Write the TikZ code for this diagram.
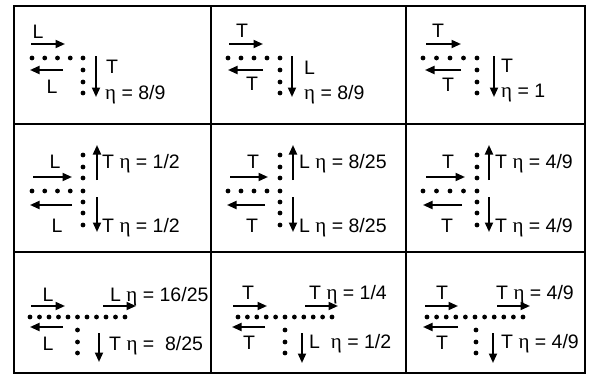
\documentclass[tikz,border=0pt]{standalone}
\usepackage{fontspec}
\setmainfont{Liberation Sans}
\newfontfamily\grk{Liberation Serif}
\usetikzlibrary{arrows.meta}
\newcommand\et{{\grk\fontsize{21}{22}\selectfont η}}
\begin{document}
\begin{tikzpicture}[x=1pt,y=-1pt,
  font=\fontsize{19.5}{22}\selectfont,
  lab/.style={anchor=base,inner sep=0pt},
  labw/.style={anchor=base west,inner sep=0pt},
  arr/.style={line width=1.9pt,-{Triangle[length=9.5pt,width=8pt]}},
  frame/.style={line width=2pt}]
\useasboundingbox (0,0) rectangle (590,375);
% grid
\draw[frame] (14,6) rectangle (585,373);
\draw[frame] (211,6) -- (211,373) (406,6) -- (406,373)
             (14,124) -- (585,124) (14,252) -- (585,252);
\def\dotr{2.4}
% ---------- Row 1 ----------
% cell 1
\foreach \i in {0,...,4} \fill (32+\i*12.75,58) circle (\dotr);
\foreach \y in {70,82,93} \fill (83,\y) circle (\dotr);
\draw[arr] (31,44) -- (65,44);
\draw[arr] (63,70) -- (30,70);
\draw[arr] (96,56) -- (96,97);
\node[lab] (c1a) at (38,38) {L};
\node[lab] (c1b) at (52,93) {L};
\node[labw] (c1c) at (106,73) {T};
\node[labw] (c1d) at (105,99) {\et{} = 8/9};
% cell 2
\foreach \i in {0,...,4} \fill (228+\i*13,58) circle (\dotr);
\foreach \y in {70,82,93} \fill (280,\y) circle (\dotr);
\draw[arr] (229,44) -- (263,44);
\draw[arr] (263,70) -- (228,70);
\draw[arr] (292,56) -- (292,97);
\node[lab] (c2a) at (242,37) {T};
\node[lab] (c2b) at (252,90) {T};
\node[labw] (c2c) at (304,74) {L};
\node[labw] (c2d) at (304,99) {\et{} = 8/9};
% cell 3
\foreach \i in {0,...,4} \fill (423+\i*13.5,58) circle (\dotr);
\foreach \y in {70,82,93} \fill (477,\y) circle (\dotr);
\draw[arr] (426,44) -- (461,44);
\draw[arr] (461,70) -- (425,70);
\draw[arr] (494,56) -- (494,97);
\node[lab] (c3a) at (438,37) {T};
\node[lab] (c3b) at (448,91) {T};
\node[labw] (c3c) at (501,72) {T};
\node[labw] (c3d) at (501,97) {\et{} = 1};
% ---------- Row 2 ----------
% cell 4
\foreach \i in {0,...,4} \fill (32+\i*12.75,191) circle (\dotr);
\foreach \y in {155,167,178,202,213,225} \fill (83,\y) circle (\dotr);
\draw[arr] (33,177) -- (72,177);
\draw[arr] (72,205) -- (30,205);
\draw[arr] (97,180) -- (97,145);
\draw[arr] (97,197) -- (97,232);
\node[lab] (c4a) at (55,168) {L};
\node[lab] (c4b) at (57,232) {L};
\node[labw] (c4c) at (102,168) {T \et{} = 1/2};
\node[labw] (c4d) at (102,232) {T \et{} = 1/2};
% cell 5
\foreach \i in {0,...,4} \fill (228+\i*13,191) circle (\dotr);
\foreach \y in {155,167,178,202,213,225} \fill (280,\y) circle (\dotr);
\draw[arr] (230,177) -- (268,177);
\draw[arr] (265,205) -- (227,205);
\draw[arr] (293,180) -- (293,145);
\draw[arr] (293,197) -- (293,232);
\node[lab] (c5a) at (253,168) {T};
\node[lab] (c5b) at (252,232) {T};
\node[labw] (c5c) at (299,168) {L \et{} = 8/25};
\node[labw] (c5d) at (299,232) {L \et{} = 8/25};
% cell 6
\foreach \i in {0,...,4} \fill (423+\i*13.5,191) circle (\dotr);
\foreach \y in {155,167,178,202,213,225} \fill (477,\y) circle (\dotr);
\draw[arr] (426,177) -- (465,177);
\draw[arr] (462,205) -- (423,205);
\draw[arr] (489,180) -- (489,145);
\draw[arr] (489,197) -- (489,232);
\node[lab] (c6a) at (448,168) {T};
\node[lab] (c6b) at (447,232) {T};
\node[labw] (c6c) at (495,168) {T \et{} = 4/9};
\node[labw] (c6d) at (495,232) {T \et{} = 4/9};
% ---------- Row 3 ----------
% cell 7
\foreach \i in {0,...,10} \fill (30+\i*9.5,317) circle (\dotr);
\foreach \y in {330,342,353} \fill (77.5,\y) circle (\dotr);
\draw[arr] (31,306) -- (65,306);
\draw[arr] (103,306) -- (136,306);
\draw[arr] (63,327) -- (30,327);
\draw[arr] (99,333) -- (99,362);
\node[lab] (c7a) at (48,301) {L};
\node[lab] (c7b) at (48,350) {L};
\node[labw] (c7c) at (110,301) {L \et{} = 16/25};
\node[labw] (c7d) at (109,350) {T \et{} =\ \ 8/25};
% cell 8
\foreach \i in {0,...,10} \fill (238+\i*9.4,317) circle (\dotr);
\foreach \y in {330,342,353} \fill (285,\y) circle (\dotr);
\draw[arr] (233,306) -- (267,306);
\draw[arr] (305,306) -- (338,306);
\draw[arr] (265,327) -- (232,327);
\draw[arr] (302,333) -- (302,363);
\node[lab] (c8a) at (248,299) {T};
\node[lab] (c8b) at (249,349) {T};
\node[labw] (c8c) at (309,299) {T \et{} = 1/4};
\node[labw] (c8d) at (309,348) {L\ \ \et{} = 1/2};
% cell 9
\foreach \i in {0,...,10} \fill (427+\i*9.6,317) circle (\dotr);
\foreach \y in {330,342,353} \fill (476,\y) circle (\dotr);
\draw[arr] (425,306) -- (458,306);
\draw[arr] (497,306) -- (530,306);
\draw[arr] (458,327) -- (423,327);
\draw[arr] (493,333) -- (493,363);
\node[lab] (c9a) at (442,299) {T};
\node[lab] (c9b) at (442,349) {T};
\node[labw] (c9c) at (496,299) {T \et{} = 4/9};
\node[labw] (c9d) at (501,348) {T \et{} = 4/9};
\end{tikzpicture}
\end{document}
